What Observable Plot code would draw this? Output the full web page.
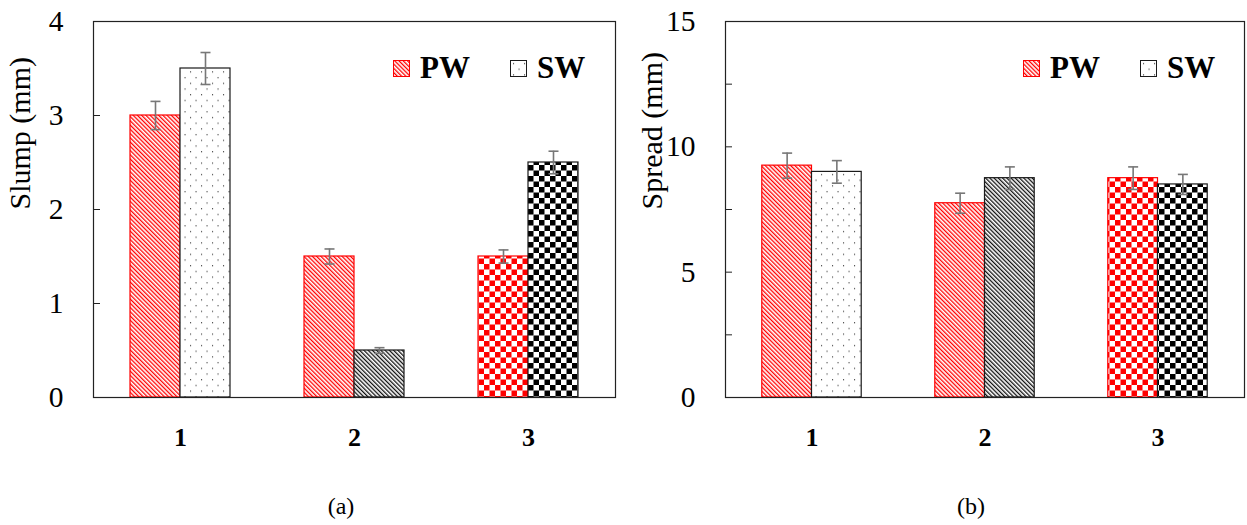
<!DOCTYPE html>
<html><head><meta charset="utf-8">
<script src="https://cdn.jsdelivr.net/npm/d3@7"></script>
<script src="https://cdn.jsdelivr.net/npm/@observablehq/plot@0.6"></script>
<style>
body{margin:0;background:#fff;font-family:"Liberation Serif","Times New Roman",Times,serif;}
#wrap{position:relative;width:1247px;height:525px;overflow:hidden;}
.panel{position:absolute;top:0;}
.panel text{font-family:"Liberation Serif","Times New Roman",Times,serif;}
.leg{position:absolute;top:52px;height:32px;display:flex;align-items:center;font-weight:bold;font-size:31px;color:#000;}
.leg svg{margin-right:10px;}
.cap{position:absolute;font-size:24px;transform:translate(-50%,-50%);color:#000;}
</style></head><body>
<svg width="0" height="0" style="position:absolute">
<defs>
<pattern id="hatchRed" patternUnits="userSpaceOnUse" width="3" height="3" patternTransform="rotate(-45)">
<rect width="3" height="3" fill="#fff"/><rect x="0" y="0" width="1.3" height="3" fill="#ff0000"/></pattern>
<pattern id="hatchBlack" patternUnits="userSpaceOnUse" width="3" height="3" patternTransform="rotate(-45)">
<rect width="3" height="3" fill="#fff"/><rect x="0" y="0" width="1.3" height="3" fill="#111"/></pattern>
<pattern id="dots" patternUnits="userSpaceOnUse" width="11" height="11.4">
<rect width="11" height="11.4" fill="#fff"/><rect x="3" y="3" width="1.1" height="1.1" fill="#333"/><rect x="8.5" y="8.7" width="1.1" height="1.1" fill="#333"/></pattern>
<pattern id="checkRed" patternUnits="userSpaceOnUse" width="11" height="11">
<rect width="11" height="11" fill="#fff"/><rect width="5.5" height="5.5" fill="#ff0000"/><rect x="5.5" y="5.5" width="5.5" height="5.5" fill="#ff0000"/></pattern>
<pattern id="checkBlack" patternUnits="userSpaceOnUse" width="11" height="11">
<rect width="11" height="11" fill="#fff"/><rect width="5.5" height="5.5" fill="#000"/><rect x="5.5" y="5.5" width="5.5" height="5.5" fill="#000"/></pattern>
</defs></svg>
<div id="wrap"></div>
<script>
// ---- data ----
const groups = [1, 2, 3];
const series = ["PW", "SW"];
const slumpValues = [3.0, 3.5, 1.5, 0.5, 1.5, 2.5];      // order: g1 PW, g1 SW, g2 PW, ...
const slumpErrors = [0.15, 0.17, 0.08, 0.03, 0.07, 0.12];
const spreadValues = [9.25, 9.0, 7.75, 8.75, 8.75, 8.5];
const spreadErrors = [0.5, 0.45, 0.4, 0.45, 0.45, 0.4];
const slumpTicks = [0, 1, 2, 3, 4];
const slumpTickLabels = [0, 1, 2, 3, 4];
const spreadTicks = [0, 2.5, 5, 7.5, 10, 12.5, 15];
const spreadTickLabels = [0, 5, 10, 15];
const xTickLabels = ["1", "2", "3"];

// ---- styles ----
const FONT = '"Liberation Serif", "Times New Roman", Times, serif';
const patternFor = {"1-PW": "hatchRed", "1-SW": "dots", "2-PW": "hatchRed", "2-SW": "hatchBlack", "3-PW": "checkRed", "3-SW": "checkBlack"};
const strokeFor = {PW: "#ff0000", SW: "#1a1a1a"};
const bw = 50 / 174; // bar width as fraction of group step

const capSymbol = {draw(ctx, size) { const r = Math.sqrt(size / Math.PI); ctx.moveTo(-r, 0); ctx.lineTo(r, 0); }};

function rowsOf(values, errs) {
  const rows = [];
  groups.forEach((g, i) => series.forEach((s, j) => {
    const k = i * series.length + j;
    rows.push({g, s, v: values[k], e: errs[k]});
  }));
  return rows;
}
const center = d => d.g + (d.s === "PW" ? -bw / 2 : bw / 2);

function panel({values, errs, yDomain, ticks, tickLabels, label, width, ml, mr}) {
  const rows = rowsOf(values, errs);
  return Plot.plot({
    width, height: 470, marginLeft: ml, marginRight: mr, marginTop: 21, marginBottom: 73,
    style: {fontFamily: FONT, background: "transparent", color: "#000", overflow: "visible"},
    x: {domain: [0.5, 3.5]},
    y: {domain: yDomain},
    color: {type: "identity"},
    marks: [
      Plot.rectY(rows, {
        x1: d => d.g - (d.s === "PW" ? bw : 0),
        x2: d => d.g + (d.s === "PW" ? 0 : bw),
        y1: 0, y2: "v",
        fill: d => `url(#${patternFor[d.g + "-" + d.s]})`,
        stroke: d => strokeFor[d.s], strokeWidth: 1.2
      }),
      Plot.ruleX(rows, {x: center, y1: d => d.v - d.e, y2: d => d.v + d.e, stroke: "#777", strokeWidth: 1.6}),
      Plot.dot(rows, {x: center, y: d => d.v + d.e, symbol: capSymbol, r: 5, stroke: "#777", strokeWidth: 1.6}),
      Plot.dot(rows, {x: center, y: d => d.v - d.e, symbol: capSymbol, r: 5, stroke: "#777", strokeWidth: 1.6}),
      Plot.frame({stroke: "#222", strokeWidth: 1.2}),
      Plot.axisY({ticks: tickLabels, tickSize: 0, tickPadding: 30, fontSize: 29.5, label: null, tickFormat: d => String(d)}),
      Plot.axisY({ticks, tickSize: -7, tickFormat: () => "", label: null, stroke: "#222"}),
      Plot.axisX({ticks: groups, tickSize: 0, tickPadding: 30, fontSize: 26, fontWeight: "bold", label: null, tickFormat: (d, i) => xTickLabels[i]}),
      Plot.text([label], {frameAnchor: "left", dx: -73, rotate: -90, fontSize: 30, text: d => d, fill: "#000"})
    ]
  });
}

const wrap = document.getElementById("wrap");
const left = panel({values: slumpValues, errs: slumpErrors, yDomain: [0, 4], ticks: slumpTicks, tickLabels: slumpTickLabels, label: "Slump (mm)", width: 620, ml: 93, mr: 5});
left.classList.add("panel"); left.style.left = "0px";
const right = panel({values: spreadValues, errs: spreadErrors, yDomain: [0, 15], ticks: spreadTicks, tickLabels: spreadTickLabels, label: "Spread (mm)", width: 627, ml: 105, mr: 3});
right.classList.add("panel"); right.style.left = "620px";
wrap.appendChild(left); wrap.appendChild(right);

function legendItem(x, name, pat, stroke) {
  const d = document.createElement("div");
  d.className = "leg"; d.style.left = x + "px";
  d.innerHTML = `<svg width="17" height="17"><rect x="0.5" y="0.5" width="16" height="16" fill="url(#${pat})" stroke="${stroke}" stroke-width="1"/></svg><span>${name}</span>`;
  wrap.appendChild(d);
}
legendItem(393, series[0], "hatchRed", strokeFor.PW);
legendItem(510, series[1], "dots", strokeFor.SW);
legendItem(1023, series[0], "hatchRed", strokeFor.PW);
legendItem(1140, series[1], "dots", strokeFor.SW);

function caption(x, t) {
  const d = document.createElement("div");
  d.className = "cap"; d.style.left = x + "px"; d.style.top = "506px"; d.textContent = t;
  wrap.appendChild(d);
}
caption(341, "(a)");
caption(971, "(b)");
</script>
</body></html>
